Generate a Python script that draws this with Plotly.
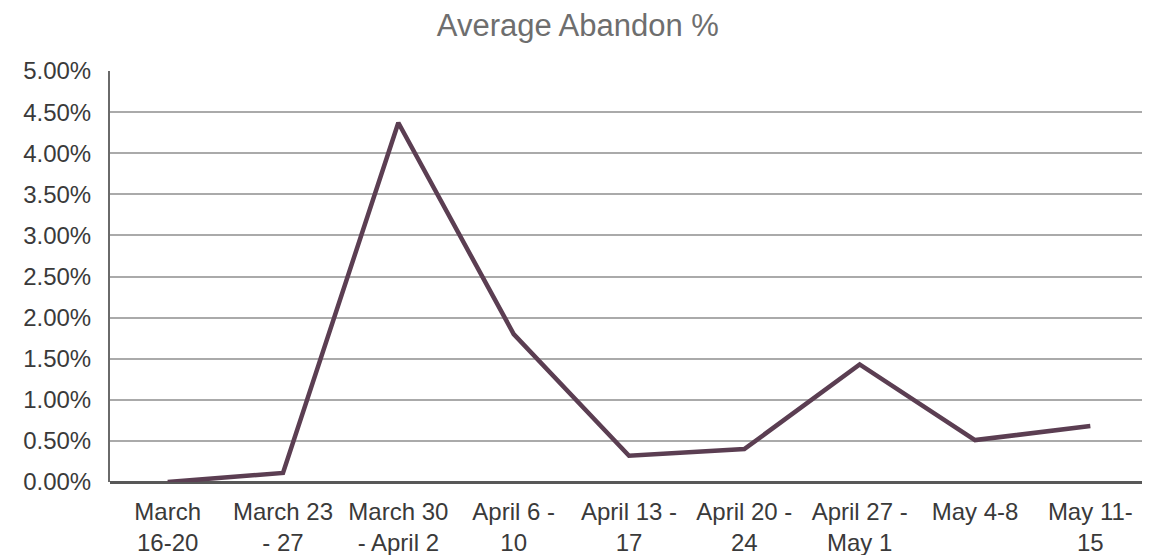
import plotly.graph_objects as go

categories = ["March<br>16-20", "March 23<br>- 27", "March 30<br>- April 2", "April 6 -<br>10",
              "April 13 -<br>17", "April 20 -<br>24", "April 27 -<br>May 1", "May 4-8<br> ", "May 11-<br>15"]
abandon = [0.0000, 0.0011, 0.0437, 0.0180, 0.0032, 0.0040, 0.0143, 0.0051, 0.0068]
y_ticks = [0, 0.005, 0.01, 0.015, 0.02, 0.025, 0.03, 0.035, 0.04, 0.045, 0.05]

fig = go.Figure()
fig.add_trace(go.Scatter(x=categories, y=abandon, mode="lines",
                         line=dict(color="#5b3e52", width=4.5), hoverinfo="skip"))

# page body has an 8px default margin, so the figure is sized to fill the visible window
fig.update_layout(
    width=1142, height=547,
    margin=dict(l=102, r=2, t=63, b=73),
    paper_bgcolor="white", plot_bgcolor="white",
    font=dict(family="Liberation Sans, Arial, sans-serif", color="#3a3a3a", size=25),
    title=dict(text="Average Abandon %", x=0.499, xanchor="center", y=0.969, yanchor="middle",
               font=dict(size=31, color="#6e6e6e")),
    showlegend=False,
    xaxis=dict(showgrid=False, zeroline=False, showline=False, ticks="",
               range=[-0.5, 8.5], ticklabelstandoff=13, automargin=False,
               tickfont=dict(size=24, color="#3a3a3a")),
    yaxis=dict(range=[0, 0.05], tickvals=y_ticks, tickformat=".2%",
               showgrid=True, gridcolor="#aaaaaa", gridwidth=2,
               zeroline=True, zerolinecolor="#585858", zerolinewidth=3,
               showline=True, linecolor="#6a6a6a", linewidth=2,
               ticks="", ticklabelstandoff=12, automargin=False,
               tickfont=dict(size=24, color="#3a3a3a")),
)

fig.write_html("out.html")
